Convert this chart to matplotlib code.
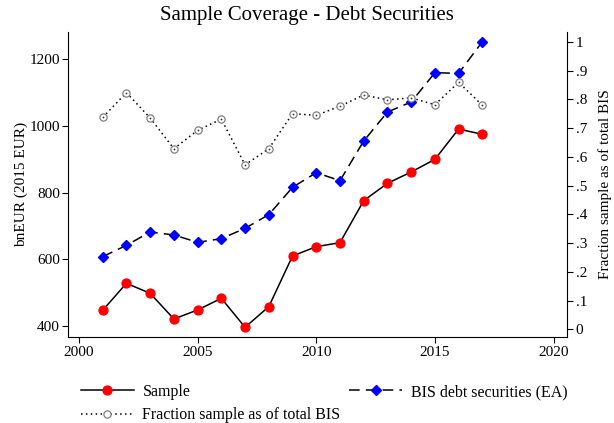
import matplotlib
matplotlib.use("Agg")
import matplotlib.pyplot as plt
from matplotlib.lines import Line2D

plt.rcParams["font.family"] = ["Liberation Serif", "DejaVu Serif"]

years = list(range(2001, 2018))
sample = [447, 528, 498, 421, 448, 483, 396, 458, 610, 638, 650, 776, 828, 862, 900, 991, 975]
bis_debt = [608, 642, 682, 673, 651, 662, 693, 734, 816, 860, 836, 955, 1042, 1072, 1160, 1158, 1253]
fraction = [0.737, 0.823, 0.735, 0.628, 0.692, 0.731, 0.572, 0.628, 0.750, 0.744,
            0.776, 0.815, 0.798, 0.805, 0.781, 0.859, 0.779]

left_ticks = [400, 600, 800, 1000, 1200]
right_ticks = [0, .1, .2, .3, .4, .5, .6, .7, .8, .9, 1]
right_labels = ["0", ".1", ".2", ".3", ".4", ".5", ".6", ".7", ".8", ".9", "1"]
x_ticks = [2000, 2005, 2010, 2015, 2020]

fig = plt.figure(figsize=(6.14, 4.23), dpi=100)
ax = fig.add_axes([68.3 / 614, 1 - 337.3 / 423, (567.3 - 68.3) / 614, (337.3 - 31.7) / 423])
ax2 = ax.twinx()

fs = 11
ax.plot(years, sample, color="black", lw=1.1, marker="o", ms=6.4,
        mfc="red", mec="red", zorder=3)
ax.plot(years, bis_debt, color="black", lw=1.1, ls=(0, (7, 4)), marker="D", ms=5.6,
        mfc="blue", mec="blue", zorder=3)
ax2.plot(years, fraction, color="black", lw=1.1, ls=(0, (1, 2.2)), marker="o", ms=5.2,
         mfc="white", mec="#808080", mew=0.9, zorder=3)
ax2.plot(years, fraction, ls="none", marker="o", ms=1.3, mfc="#333333", mec="none", zorder=4)

ax.set_xlim(1999.55, 2020.58)
ax.set_ylim(366, 1283)
ax2.set_ylim(-0.0278, 1.035)

ax.set_xticks(x_ticks)
ax.set_yticks(left_ticks)
ax2.set_yticks(right_ticks)
ax2.set_yticklabels(right_labels)

for a in (ax, ax2):
    a.spines["top"].set_visible(False)
    for s in a.spines.values():
        s.set_linewidth(0.8)
    a.tick_params(labelsize=fs, length=4, width=0.8, pad=2)
ax.spines["right"].set_visible(False)
ax2.spines["left"].set_visible(False)
ax2.spines["bottom"].set_visible(False)

ax.set_ylabel("bnEUR (2015 EUR)", fontsize=fs)
ax.yaxis.set_label_coords(-0.08, 0.5)
ax2.set_ylabel("Fraction sample as of total BIS", fontsize=fs, rotation=90)
ax2.yaxis.set_label_coords(1.0615, 0.5)

fig.suptitle("Sample Coverage - Debt Securities", fontsize=15, y=0.985)

h_sample = Line2D([], [], color="black", lw=1.1, marker="o", ms=6.4, mfc="red", mec="red")
h_bis = Line2D([], [], color="black", lw=1.1, ls=(0, (7, 4)), marker="D", ms=5.6,
               mfc="blue", mec="blue")
h_frac = Line2D([], [], color="black", lw=1.1, ls=(0, (1, 2.2)), marker="o", ms=5.2,
                mfc="white", mec="#808080", mew=0.9)
fig.legend([h_sample, h_frac, h_bis],
           ["Sample", "Fraction sample as of total BIS", "BIS debt securities (EA)"],
           ncol=2, loc="upper left", bbox_to_anchor=(81 / 614, 1 - 384 / 423),
           frameon=False, fontsize=11.5, handlelength=3.3, handletextpad=0.55,
           columnspacing=0.55, borderpad=0, borderaxespad=0, labelspacing=0.45)

fig.savefig("out.png", dpi=100)
